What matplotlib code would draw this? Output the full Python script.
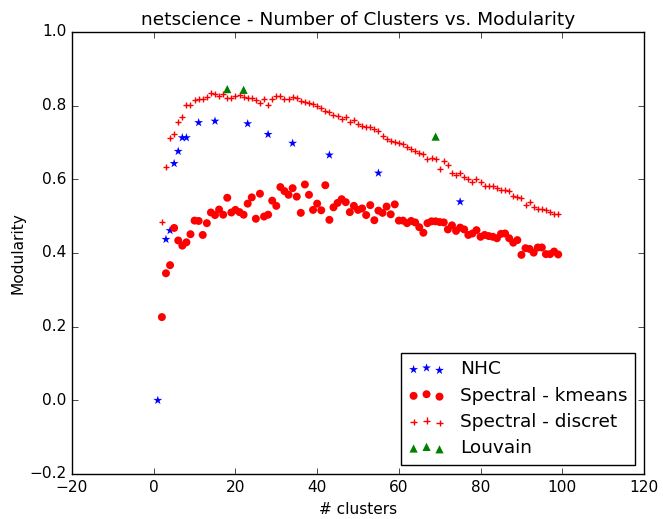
import numpy as np
import matplotlib
matplotlib.use("Agg")
import matplotlib.pyplot as plt

# ===================== data =====================
nhc_k = [1, 3, 4, 5, 6, 7, 8, 11, 15, 23, 28, 34, 43, 55, 75]
nhc_q = [0.0, 0.437, 0.461, 0.643, 0.676, 0.713, 0.713, 0.754, 0.758, 0.751,
         0.722, 0.698, 0.666, 0.617, 0.539]

louvain_k = [18, 22, 69]
louvain_q = [0.845, 0.843, 0.716]

spectral_k = list(range(2, 100))

kmeans_q = [0.226, 0.345, 0.367, 0.468, 0.434, 0.420, 0.429, 0.451, 0.488, 0.487,
            0.449, 0.481, 0.510, 0.503, 0.518, 0.504, 0.550, 0.510, 0.517, 0.511,
            0.504, 0.534, 0.551, 0.493, 0.561, 0.499, 0.504, 0.542, 0.528, 0.579,
            0.568, 0.558, 0.576, 0.553, 0.509, 0.586, 0.558, 0.517, 0.534, 0.516,
            0.584, 0.490, 0.524, 0.536, 0.546, 0.538, 0.511, 0.528, 0.517, 0.521,
            0.503, 0.530, 0.489, 0.515, 0.509, 0.526, 0.505, 0.532, 0.488, 0.488,
            0.481, 0.487, 0.483, 0.470, 0.455, 0.481, 0.486, 0.486, 0.484, 0.483,
            0.464, 0.475, 0.460, 0.469, 0.464, 0.449, 0.453, 0.462, 0.444, 0.449,
            0.446, 0.444, 0.440, 0.452, 0.453, 0.440, 0.428, 0.435, 0.395, 0.413,
            0.411, 0.401, 0.415, 0.415, 0.397, 0.397, 0.404, 0.396]

discret_q = [0.485, 0.633, 0.711, 0.723, 0.756, 0.770, 0.801, 0.802, 0.816, 0.819,
             0.819, 0.823, 0.834, 0.832, 0.825, 0.833, 0.821, 0.822, 0.825, 0.829,
             0.823, 0.822, 0.822, 0.815, 0.806, 0.819, 0.803, 0.819, 0.825, 0.825,
             0.817, 0.819, 0.824, 0.821, 0.814, 0.811, 0.806, 0.805, 0.800, 0.793,
             0.786, 0.784, 0.774, 0.772, 0.764, 0.768, 0.757, 0.760, 0.750, 0.745,
             0.743, 0.741, 0.738, 0.732, 0.718, 0.710, 0.705, 0.702, 0.699, 0.695,
             0.689, 0.682, 0.677, 0.672, 0.670, 0.655, 0.659, 0.655, 0.628, 0.649,
             0.639, 0.618, 0.613, 0.618, 0.607, 0.600, 0.593, 0.600, 0.593, 0.581,
             0.583, 0.581, 0.577, 0.570, 0.570, 0.567, 0.556, 0.553, 0.549, 0.530,
             0.538, 0.524, 0.520, 0.520, 0.517, 0.512, 0.505, 0.505]

# ===================== plot =====================
plt.style.use("classic")
plt.rcParams["font.family"] = ["DejaVu Sans"]
plt.rcParams["font.size"] = 11.1
plt.rcParams["figure.facecolor"] = "white"
plt.rcParams["savefig.facecolor"] = "white"

W, H = 663, 519
fig = plt.figure(figsize=(W / 100, H / 100), dpi=100)
ax = fig.add_axes([72 / W, 1 - 474 / H, (644 - 72) / W, (474 - 32) / H])

ax.scatter(nhc_k, nhc_q, s=45, marker="*", color="b", edgecolors="none", label="NHC")
ax.scatter(spectral_k, kmeans_q, s=33, marker="o", color="r", edgecolors="none",
           label="Spectral - kmeans")
ax.scatter(spectral_k, discret_q, s=20, marker="+", color="r", linewidths=1,
           label="Spectral - discret")
ax.scatter(louvain_k, louvain_q, s=35, marker="^", color="g", edgecolors="none",
           label="Louvain")

ax.set_xlim(-20, 120)
ax.set_ylim(-0.2, 1.0)
ax.set_title("netscience - Number of Clusters vs. Modularity")
ax.set_xlabel("# clusters")
ax.set_ylabel("Modularity", labelpad=2.5)
ax.legend(loc="lower right", scatterpoints=3, labelspacing=0.45)

fig.savefig("out.png", dpi=100)
